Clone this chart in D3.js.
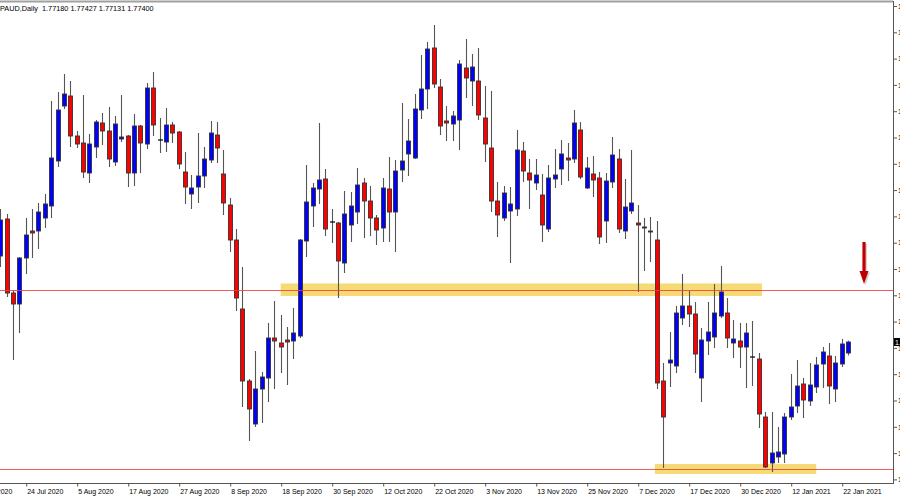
<!DOCTYPE html>
<html><head><meta charset="utf-8">
<script src="https://cdn.jsdelivr.net/npm/d3@7"></script>
<style>html,body{margin:0;padding:0;background:#fff;overflow:hidden}svg{display:block}</style>
</head><body><svg id="c" width="900" height="500"></svg>
<script>
// Bar numbers: first bar is 4 bars before "24 Jul 2020"
const firstBar = -4;
const opens = [1.7912,1.7986,1.7838,1.7816,
1.7908,1.7962,1.7962,1.7988,1.8012,1.8102,1.8212,1.8232,1.8152,1.8138,
1.8078,1.8130,1.8178,1.8162,1.8100,1.8146,1.8152,1.8078,1.8172,1.8136,
1.8248,1.8144,1.8140,1.8174,1.8160,1.8080,1.8036,1.8050,1.8072,1.8104,
1.8154,1.8076,1.8014,1.7944,1.7806,1.7662,1.7576,1.7646,1.7668,1.7748,
1.7738,1.7744,1.7742,1.7752,1.7942,1.8012,1.8046,1.8066,1.7980,1.7978,
1.7898,1.7974,1.8000,1.8058,1.8022,1.7988,1.7968,1.8046,1.8000,1.8084,
1.8116,1.8108,1.8204,1.8246,1.8328,1.8250,1.8182,1.8176,1.8184,1.8288,
1.8262,1.8262,1.8188,1.8128,1.8022,1.7988,1.8002,1.8006,1.8122,1.8078,
1.8058,1.8034,1.7966,1.8066,1.8086,1.8108,1.8106,1.8164,1.8048,1.8076,
1.8068,1.7982,1.8060,1.8106,1.7962,1.8002,1.7978,1.7968,1.7962,1.7944,
1.7662,1.7698,1.7692,1.7788,1.7812,1.7796,1.7668,1.7742,1.7750,1.7792,
1.7798,1.7738,1.7742,1.7730,1.7710,1.7706,1.7590,1.7498,1.7510,1.7516,
1.7590,1.7612,1.7656,1.7622,1.7650,1.7696,1.7712,1.7646,1.7696,1.7718];
const highs = [1.8006,1.7996,1.7844,1.7910,
1.7988,1.8006,1.8018,1.8036,1.8222,1.8240,1.8276,1.8262,1.8162,1.8234,
1.8156,1.8184,1.8198,1.8210,1.8192,1.8234,1.8154,1.8196,1.8174,1.8258,
1.8280,1.8188,1.8208,1.8180,1.8162,1.8120,1.8074,1.8158,1.8130,1.8182,
1.8180,1.8124,1.8028,1.7966,1.7890,1.7666,1.7722,1.7680,1.7778,1.7822,
1.7794,1.7770,1.7808,1.7946,1.8094,1.8058,1.8178,1.8086,1.8006,1.7980,
1.8042,1.8040,1.8088,1.8068,1.8052,1.7994,1.8068,1.8110,1.8104,1.8218,
1.8186,1.8236,1.8314,1.8340,1.8374,1.8266,1.8212,1.8202,1.8304,1.8346,
1.8316,1.8328,1.8252,1.8242,1.8060,1.8052,1.8050,1.8164,1.8140,1.8106,
1.8106,1.8076,1.8094,1.8126,1.8144,1.8138,1.8204,1.8180,1.8110,1.8112,
1.8080,1.8078,1.8150,1.8126,1.8066,1.8124,1.8014,1.7988,1.7990,1.7982,
1.7698,1.7760,1.7812,1.7876,1.7842,1.7820,1.7768,1.7820,1.7856,1.7892,
1.7828,1.7784,1.7778,1.7778,1.7782,1.7718,1.7600,1.7600,1.7570,1.7598,
1.7676,1.7704,1.7668,1.7698,1.7710,1.7730,1.7738,1.7712,1.7746,1.77427];
const lows = [1.7890,1.7830,1.7704,1.7758,
1.7876,1.7908,1.7926,1.7968,1.7988,1.8090,1.8206,1.8130,1.8128,1.8068,
1.8058,1.8108,1.8134,1.8090,1.8092,1.8140,1.8050,1.8052,1.8078,1.8126,
1.8152,1.8118,1.8120,1.8138,1.8086,1.8016,1.8006,1.8018,1.8048,1.8098,
1.8098,1.7994,1.7920,1.7802,1.7610,1.7542,1.7570,1.7578,1.7620,1.7646,
1.7678,1.7654,1.7706,1.7748,1.7910,1.7970,1.8016,1.7952,1.7938,1.7828,
1.7878,1.7940,1.7976,1.7948,1.7952,1.7934,1.7940,1.7940,1.7920,1.8060,
1.8072,1.8106,1.8186,1.8206,1.8248,1.8154,1.8142,1.8142,1.8124,1.8228,
1.8212,1.8184,1.8100,1.8000,1.7950,1.7982,1.7898,1.7992,1.8060,1.8006,
1.8044,1.7940,1.7960,1.8048,1.8054,1.8062,1.8098,1.8066,1.8046,1.8030,
1.7936,1.7938,1.8048,1.7958,1.7946,1.7996,1.7840,1.7882,1.7900,1.7646,
1.7488,1.7650,1.7678,1.7774,1.7770,1.7678,1.7620,1.7714,1.7728,1.7788,
1.7728,1.7708,1.7688,1.7648,1.7652,1.7568,1.7488,1.7480,1.7498,1.7498,
1.7584,1.7598,1.7588,1.7612,1.7638,1.7648,1.7616,1.7620,1.7690,1.77131];
const closes = [1.7984,1.7838,1.7816,1.7908,
1.7954,1.7958,1.8000,1.8016,1.8108,1.8204,1.8236,1.8152,1.8136,1.8080,
1.8136,1.8180,1.8162,1.8106,1.8176,1.8150,1.8078,1.8172,1.8138,1.8248,
1.8174,1.8144,1.8174,1.8158,1.8096,1.8050,1.8048,1.8072,1.8106,1.8158,
1.8128,1.8018,1.7944,1.7828,1.7662,1.7606,1.7646,1.7670,1.7748,1.7742,
1.7730,1.7740,1.7758,1.7944,1.8020,1.8048,1.8064,1.7966,1.7980,1.7902,
1.7996,1.8012,1.8054,1.8022,1.7988,1.7964,1.8048,1.8000,1.8082,1.8102,
1.8142,1.8206,1.8246,1.8326,1.8256,1.8172,1.8178,1.8192,1.8296,1.8268,
1.8290,1.8194,1.8136,1.8022,1.7994,1.8038,1.8016,1.8124,1.8082,1.8064,
1.8074,1.7974,1.8068,1.8074,1.8116,1.8104,1.8178,1.8070,1.8088,1.8064,
1.7950,1.8062,1.8114,1.7966,1.8010,1.8018,1.7974,1.7970,1.7960,1.7658,
1.7590,1.7704,1.7798,1.7812,1.7796,1.7716,1.7744,1.7760,1.7798,1.7840,
1.7748,1.7746,1.7730,1.7758,1.7710,1.7596,1.7490,1.7518,1.7520,1.7590,
1.7610,1.7652,1.7624,1.7654,1.7694,1.7720,1.7652,1.7698,1.7736,1.7740];

const dateLabels = ["14 Jul 2020","24 Jul 2020","5 Aug 2020","17 Aug 2020","27 Aug 2020","8 Sep 2020","18 Sep 2020","30 Sep 2020","12 Oct 2020","22 Oct 2020","3 Nov 2020","13 Nov 2020","25 Nov 2020","7 Dec 2020","17 Dec 2020","30 Dec 2020","12 Jan 2021","22 Jan 2021"];
const dateBars = [-8,0,8,16,24,32,40,48,56,64,72,80,88,96,104,112,120,128];
const priceTicks = [1.84120,1.83594,1.83068,1.82542,1.82016,1.81490,1.80964,1.80438,1.79912,1.79386,1.78860,1.78334,1.77808,1.77282,1.76756,1.76230,1.75704,1.75178,1.74652];

const titleText = "GBPAUD,Daily  1.77180 1.77427 1.77131 1.77400";
const lastPrice = 1.77400;
const resistance = 1.7845, resBandTop = 1.7857, resBandBot = 1.7832, resBandFrom = 40, resBandTo = 115.5;
const support = 1.7486, supBandTop = 1.7496, supBandBot = 1.7476, supBandFrom = 98.7, supBandTo = 124;
const arrowBar = 131.5, arrowTop = 1.7940, arrowNeck = 1.7882, arrowTip = 1.7856;

const data = opens.map((o,k)=>({bar:firstBar+k, o, h:highs[k], l:lows[k], c:closes[k]}));

const W = 900, H = 500, plotR = 893, plotT = 3, plotB = 483;
const x = d3.scaleLinear().domain([0,128]).range([25.7,841.7]);
const y = d3.scaleLinear().domain([1.7462,1.8424]).range([481,0]);
const crisp = v => Math.round(v) + 0.5;

const svg = d3.select("#c");
const font = "'Liberation Sans', Arial, sans-serif";

svg.append("defs").append("clipPath").attr("id","pc")
  .append("rect").attr("x",0).attr("y",plotT).attr("width",plotR).attr("height",plotB-plotT);

const plot = svg.append("g").attr("clip-path","url(#pc)");

// bands
plot.append("rect").attr("x",x(resBandFrom)).attr("width",x(resBandTo)-x(resBandFrom))
  .attr("y",y(resBandTop)).attr("height",y(resBandBot)-y(resBandTop)).attr("fill","#f5d45a").attr("opacity",0.85);
plot.append("rect").attr("x",x(supBandFrom)).attr("width",x(supBandTo)-x(supBandFrom))
  .attr("y",y(supBandTop)).attr("height",y(supBandBot)-y(supBandTop)).attr("fill","#f5d45a").attr("opacity",0.85);

// candles
const g = plot.append("g");
g.selectAll("line.w").data(data).join("line").attr("class","w")
  .attr("x1",d=>Math.round(x(d.bar))+0.5).attr("x2",d=>Math.round(x(d.bar))+0.5)
  .attr("y1",d=>y(d.h)).attr("y2",d=>y(d.l))
  .attr("stroke","#555").attr("stroke-width",1.1);
g.selectAll("rect.b").data(data.filter(d=>d.o!==d.c)).join("rect").attr("class","b")
  .attr("x",d=>Math.round(x(d.bar))-1.5).attr("width",4)
  .attr("y",d=>y(Math.max(d.o,d.c))).attr("height",d=>Math.max(1,Math.abs(y(d.o)-y(d.c))))
  .attr("fill",d=>d.c>d.o?"#0000ff":"#ff0000").attr("stroke","#333").attr("stroke-width",0.9);
g.selectAll("line.dj").data(data.filter(d=>d.o===d.c)).join("line").attr("class","dj")
  .attr("x1",d=>Math.round(x(d.bar))-2).attr("x2",d=>Math.round(x(d.bar))+3)
  .attr("y1",d=>y(d.o)).attr("y2",d=>y(d.o)).attr("stroke","#000").attr("stroke-width",1.2);

// level lines
plot.append("line").attr("x1",0).attr("x2",plotR).attr("y1",crisp(y(resistance))).attr("y2",crisp(y(resistance)))
  .attr("stroke","#f04040").attr("stroke-opacity",0.85).attr("stroke-width",1);
plot.append("line").attr("x1",0).attr("x2",plotR).attr("y1",crisp(y(support))).attr("y2",crisp(y(support)))
  .attr("stroke","#f04040").attr("stroke-opacity",0.85).attr("stroke-width",1);

// arrow
const ax = x(arrowBar);
const arrowPath = d3.path();
arrowPath.moveTo(ax-1.6,y(arrowTop)); arrowPath.lineTo(ax+1.6,y(arrowTop));
arrowPath.lineTo(ax+1.6,y(arrowNeck)); arrowPath.lineTo(ax+4.5,y(arrowNeck));
arrowPath.lineTo(ax,y(arrowTip)); arrowPath.lineTo(ax-4.5,y(arrowNeck));
arrowPath.lineTo(ax-1.6,y(arrowNeck)); arrowPath.closePath();
plot.append("path").attr("d",arrowPath.toString()).attr("fill","#888").attr("opacity",0.35)
  .attr("transform","translate(1.5,1.5)");
plot.append("path").attr("d",arrowPath.toString()).attr("fill","#c00000");

// frame
svg.append("line").attr("x1",0).attr("x2",plotR).attr("y1",1.5).attr("y2",1.5).attr("stroke","#a0a0a0").attr("stroke-width",2);
svg.append("line").attr("x1",plotR+0.5).attr("x2",plotR+0.5).attr("y1",1).attr("y2",plotB+1).attr("stroke","#555").attr("stroke-width",1);
svg.append("line").attr("x1",0).attr("x2",plotR+1).attr("y1",plotB+0.5).attr("y2",plotB+0.5).attr("stroke","#555").attr("stroke-width",1);

// right axis (labels run off the right edge, as in the original screenshot)
const ya = svg.append("g").attr("transform",`translate(${plotR+1},0)`)
  .call(d3.axisRight(y).tickValues(priceTicks).tickSize(3).tickPadding(1).tickFormat(d=>d.toFixed(5)));
ya.select(".domain").remove();
ya.selectAll("line").attr("stroke","#555");
ya.selectAll("text").attr("font-family",font).attr("font-size",7).attr("fill","#000");

// last price box
svg.append("rect").attr("x",plotR+1).attr("y",y(lastPrice)-4).attr("width",10).attr("height",8).attr("fill","#000");
svg.append("text").attr("x",plotR+2).attr("y",y(lastPrice)+2.5).attr("font-family",font).attr("font-size",7)
  .attr("fill","#fff").text(lastPrice.toFixed(5));

// bottom axis
const xa = svg.append("g").attr("transform",`translate(0,${plotB+0.5})`)
  .call(d3.axisBottom(x).tickValues(dateBars).tickSize(3).tickFormat((d,i)=>dateLabels[i]));
xa.select(".domain").remove();
xa.selectAll("line").attr("stroke","#555").attr("transform","translate(0.5,0)");
xa.selectAll("text").attr("font-family",font).attr("font-size",7).attr("fill","#000")
  .attr("text-anchor","start").attr("dx",1).attr("y",6);

// title
const t = svg.append("text").attr("y",10.5).attr("font-family",font).attr("font-size",7.3).attr("fill","#000")
  .attr("xml:space","preserve").text(titleText);
const tmp = svg.append("text").attr("font-family",font).attr("font-size",7.3).text("GB");
const gbW = tmp.node().getComputedTextLength(); tmp.remove();
t.attr("x",-gbW);
</script></body></html>
